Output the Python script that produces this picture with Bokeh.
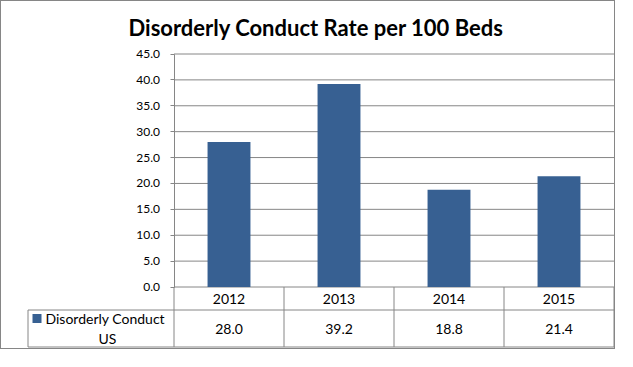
from bokeh.plotting import figure
from bokeh.models import Range1d, FixedTicker, NumeralTickFormatter
from bokeh.core.properties import value
from bokeh.embed import file_html
from bokeh.resources import INLINE

# ---- data ----
title_text = "Disorderly Conduct Rate per 100 Beds"
years = ["2012", "2013", "2014", "2015"]
rates = [28.0, 39.2, 18.8, 21.4]
series_lines = ["Disorderly Conduct", "US"]
y_ticks = [0, 5, 10, 15, 20, 25, 30, 35, 40, 45]

# ---- layout (canvas px) ----
W, H = 615, 349
FL, FR, FT, FB = 22, 614, 48, 347
X0_PX, UNIT_X = 172.5, 110.0
Y0_PX, Y45_PX = 285.5, 52.5
UNIT_Y = (Y0_PX - Y45_PX) / 45.0
TABLE_LEFT_PX, ROW1_PX, TABLE_BOTTOM_PX = 26.5, 308.5, 345.5

def xd(px):
    return (px - X0_PX) / UNIT_X

def yd(px):
    return (Y0_PX - px) / UNIT_Y

BAR = "#376092"
LINE = "#868686"
FONT = "Lato"

n = len(years)
xs = [i + 0.5 for i in range(n)]

p = figure(width=W, height=H, output_backend="svg", toolbar_location=None,
           x_range=Range1d(xd(FL), xd(FR)), y_range=Range1d(yd(FB), yd(FT)),
           min_border_left=FL, min_border_right=W - FR,
           min_border_top=FT, min_border_bottom=H - FB)
p.styles = {"border": f"1px solid {LINE}"}
p.outline_line_color = None
p.background_fill_color = "white"
p.border_fill_color = "white"
p.xaxis.visible = False
p.xgrid.visible = False
p.ygrid.visible = False

# title
p.title.text = title_text
p.title.align = "left"
p.title.offset = 105
p.title.standoff = 17
p.title.text_font = FONT
p.title.text_font_style = "bold"
p.title.text_font_size = "22px"
p.title.text_color = "black"

# y axis at x=0 within frame
ya = p.yaxis[0]
ya.fixed_location = 0
ya.bounds = (y_ticks[0], y_ticks[-1])
ya.ticker = FixedTicker(ticks=y_ticks)
ya.formatter = NumeralTickFormatter(format="0.0")
ya.major_tick_in = 0
ya.major_tick_out = 4
ya.minor_tick_line_color = None
ya.axis_line_color = LINE
ya.major_tick_line_color = LINE
ya.major_label_text_font = FONT
ya.major_label_text_font_size = "12px"
ya.major_label_text_color = "black"
ya.major_label_standoff = 10

# gridlines
p.segment(x0=[0] * len(y_ticks), x1=[n] * len(y_ticks), y0=y_ticks, y1=y_ticks,
          line_color=LINE, line_width=1)

# bars
p.vbar(x=xs, top=rates, bottom=0, width=0.39, fill_color=BAR, line_color=None)

# data table
tl, r1, tb = xd(TABLE_LEFT_PX), yd(ROW1_PX), yd(TABLE_BOTTOM_PX)
p.segment(x0=[tl, tl], x1=[n, n], y0=[r1, tb], y1=[r1, tb], line_color=LINE, line_width=1)
p.segment(x0=[tl], x1=[tl], y0=[r1], y1=[tb], line_color=LINE, line_width=1)
p.segment(x0=list(range(n + 1)), x1=list(range(n + 1)), y0=[0] * (n + 1), y1=[tb] * (n + 1),
          line_color=LINE, line_width=1)

row1_c = r1 / 2
row2_c = (r1 + tb) / 2
p.text(x=xs, y=[row1_c] * n, text=years, text_align="center", text_baseline="middle",
       text_font=value(FONT), text_font_size="14px", text_color="black")
p.text(x=xs, y=[row2_c] * n, text=[f"{v:.1f}" for v in rates], text_align="center",
       text_baseline="middle", text_font=value(FONT), text_font_size="14px", text_color="black")

# legend key in table
line_gap = 10 / UNIT_Y
p.scatter(x=[xd(35.5)], y=[row2_c + line_gap], marker="square", size=9,
          fill_color=BAR, line_color=None)
p.text(x=[xd(44)], y=[row2_c + line_gap], text=[series_lines[0]], text_align="left",
       text_baseline="middle", text_font=value(FONT), text_font_size="14px", text_color="black")
p.text(x=[xd(106)], y=[row2_c - line_gap], text=[series_lines[1]], text_align="center",
       text_baseline="middle", text_font=value(FONT), text_font_size="14px", text_color="black")

open("out.html", "w").write(file_html(p, INLINE))
